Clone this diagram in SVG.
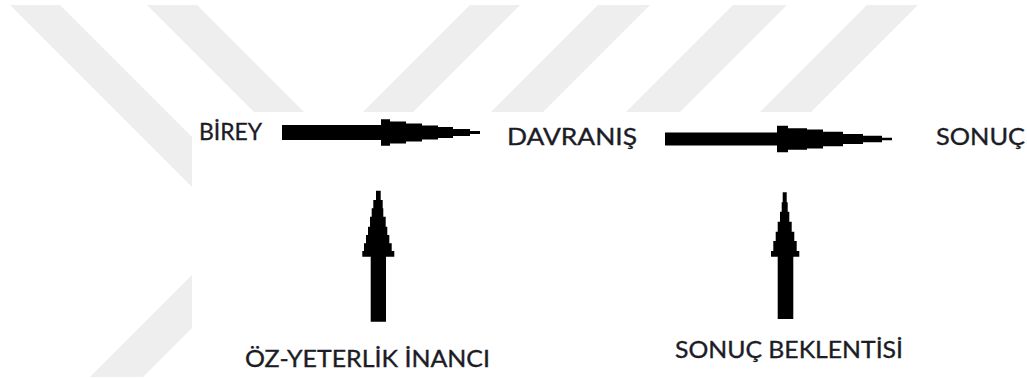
<svg xmlns="http://www.w3.org/2000/svg" width="1027" height="379" viewBox="0 0 1027 379">
  <style>
    .stripe { fill: #eeeeee; }
    .label { font-family: "Lato", "Open Sans", "Liberation Sans", sans-serif; font-size: 23.5px; fill: #1c1c26; stroke: #1c1c26; stroke-width: 0.35px; }
    .arrow { fill: #000000; }
  </style>

  <rect x="0" y="0" width="1027" height="379" fill="#ffffff"/>

  <!-- faint background stripes -->
  <g id="watermark">
    <polygon class="stripe" points="10,5 60,5 295,240 245,240"/>
    <polygon class="stripe" points="147,5 197,5 312,120 262,120"/>
    <polygon class="stripe" points="470,5 520,5 405,120 355,120"/>
    <polygon class="stripe" points="598,5 650,5 535,120 483,120"/>
    <polygon class="stripe" points="733,5 787,5 672,120 618,120"/>
    <polygon class="stripe" points="867,5 918,5 803,120 752,120"/>
    <polygon class="stripe" points="90,377 143,377 300,220 247,220"/>
  </g>

  <!-- white drawing area -->
  <rect x="192" y="112" width="835" height="267" fill="#ffffff"/>

  <!-- arrows -->
  <g id="connectors">
    <path class="arrow" d="M282,125 H381 V119.3 H390 V121.5 H406 V123.5 H422 V125.5 H438 V127 H453 V129 H470 V131 H480 V134 H470 V136 H453 V138 H438 V139.5 H422 V141.5 H406 V143.5 H390 V145.7 H381 V140 H282 Z"/>
    <path class="arrow" d="M665,132.5 H777 V125.7 H788 V128.2 H807 V129.5 H823 V131.8 H843 V134 H863 V135.7 H882 V137.8 H892 V140.2 H882 V142.3 H863 V144 H843 V146.2 H823 V148.5 H807 V149.8 H788 V152.3 H777 V145.5 H665 Z"/>
    <path class="arrow" d="M370.7,321.7 V256.7 H362.3 V251 H364 V243.3 H366 V235 H368 V226.7 H370 V216.7 H371.7 V208.3 H373.3 V200 H376 V190.7 H380.7 V200 H382.7 V208.3 H383.3 V216.7 H385.7 V226.7 H387.3 V235 H389.3 V243.3 H391.7 V251 H394.3 V256.7 H386 V321.7 Z"/>
    <path class="arrow" d="M777.7,319 V256.7 H771 V251 H773.3 V241 H775.7 V231.7 H777.7 V221.7 H780 V211.7 H781.7 V202.3 H782.7 V192.3 H786.7 V202.3 H787.7 V211.7 H789.3 V221.7 H791.7 V231.7 H794.3 V241 H796.7 V251 H799.3 V256.7 H793.3 V319 Z"/>
  </g>

  <g id="node-birey">
    <text class="label" x="199" y="140" textLength="63" lengthAdjust="spacingAndGlyphs">BİREY</text>
  </g>
  <g id="node-davranis">
    <text class="label" x="507" y="145" textLength="130" lengthAdjust="spacingAndGlyphs">DAVRANIŞ</text>
  </g>
  <g id="node-sonuc">
    <text class="label" x="936" y="145" textLength="89" lengthAdjust="spacingAndGlyphs">SONUÇ</text>
  </g>
  <g id="node-oz-yeterlik">
    <text class="label" x="245" y="367" textLength="245" lengthAdjust="spacingAndGlyphs">ÖZ-YETERLİK İNANCI</text>
  </g>
  <g id="node-sonuc-beklentisi">
    <text class="label" x="675" y="358" textLength="228" lengthAdjust="spacingAndGlyphs">SONUÇ BEKLENTİSİ</text>
  </g>
</svg>
